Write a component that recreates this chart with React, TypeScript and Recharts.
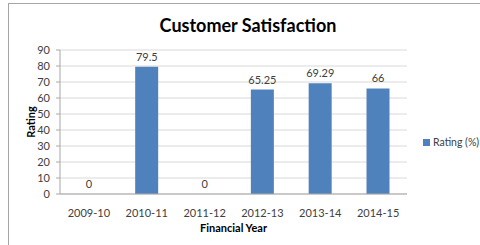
import React from "react";
import {
  ComposedChart,
  Bar,
  Line,
  XAxis,
  YAxis,
  CartesianGrid,
  LabelList,
} from "recharts";

// ---------------------------------------------------------------------------
// Data
// ---------------------------------------------------------------------------

const years = ["2009-10", "2010-11", "2011-12", "2012-13", "2013-14", "2014-15"];
const ratings = [0, 79.5, 0, 65.25, 69.29, 66];
const yTicks = [0, 10, 20, 30, 40, 50, 60, 70, 80, 90];

const data = years.map((year, i) => ({ year, rating: ratings[i] }));

const FONT = "Lato, 'Open Sans', sans-serif";
const BAR_COLOR = "#4F81BD";
const TEXT_COLOR = "#404040";

// ---------------------------------------------------------------------------
// Pieces
// ---------------------------------------------------------------------------

function YLabel({ viewBox }: any) {
  const cy = viewBox.y + viewBox.height / 2;
  const cx = 30;
  return (
    <text
      x={cx}
      y={cy}
      transform={`rotate(-90 ${cx} ${cy})`}
      textAnchor="middle"
      dominantBaseline="central"
      fontSize={11}
      fontWeight="bold"
      fill="#000"
      fontFamily={FONT}
    >
      Rating
    </text>
  );
}

// ---------------------------------------------------------------------------
// App
// ---------------------------------------------------------------------------

export default function App() {
  return (
    <div style={{ position: "fixed", left: 0, top: 0, width: 480, height: 245, background: "#fff", overflow: "hidden" }}>
      <div
        style={{
          position: "absolute",
          left: 8,
          top: 3,
          right: -2,
          bottom: -2,
          borderTop: "1px solid #a6a6a6",
          borderLeft: "1px solid #a6a6a6",
        }}
      />
      <div
        style={{
          position: "absolute",
          left: 0,
          width: 496,
          top: 14,
          textAlign: "center",
          fontFamily: FONT,
          fontWeight: "bold",
          fontSize: 18,
          color: "#000",
        }}
      >
        Customer Satisfaction
      </div>
      <div
        style={{
          position: "absolute",
          left: 423,
          top: 136,
          display: "flex",
          alignItems: "center",
          fontFamily: FONT,
          fontSize: 10.5,
          color: TEXT_COLOR,
          whiteSpace: "nowrap",
        }}
      >
        <span style={{ width: 7, height: 7, background: BAR_COLOR, marginRight: 3 }} />
        <span>Rating (%)</span>
      </div>
      <div style={{ position: "absolute", left: 0, top: 0 }}>
        <ComposedChart
          width={480}
          height={245}
          data={data}
          margin={{ top: 50, right: 73, bottom: 0, left: 30 }}
          barCategoryGap="30%"
        >
          <CartesianGrid vertical={false} stroke="#d9d9d9" />
          <XAxis
            dataKey="year"
            height={51}
            tickLine={false}
            axisLine={{ stroke: "#a6a6a6" }}
            tick={{ fontSize: 11, fill: TEXT_COLOR, fontFamily: FONT }}
            tickMargin={9}
            interval={0}
            label={{
              value: "Financial Year",
              position: "insideBottom",
              offset: 13,
              fontSize: 11,
              fontWeight: "bold",
              fill: "#000",
              fontFamily: FONT,
            }}
          />
          <YAxis
            width={30}
            domain={[0, 90]}
            ticks={yTicks}
            interval={0}
            tickSize={4}
            tickMargin={6}
            tickLine={{ stroke: "#a6a6a6" }}
            axisLine={{ stroke: "#a6a6a6" }}
            tick={{ fontSize: 11, fill: TEXT_COLOR, fontFamily: FONT }}
            label={<YLabel />}
          />
          <Bar dataKey="rating" name="Rating (%)" fill={BAR_COLOR} isAnimationActive={false} />
          {/* invisible line only to carry the value labels, including the zeros */}
          <Line
            dataKey="rating"
            stroke="none"
            dot={false}
            activeDot={false}
            legendType="none"
            isAnimationActive={false}
          >
            <LabelList
              dataKey="rating"
              position="top"
              offset={6}
              fontSize={11}
              fill={TEXT_COLOR}
              fontFamily={FONT}
            />
          </Line>
        </ComposedChart>
      </div>
    </div>
  );
}
